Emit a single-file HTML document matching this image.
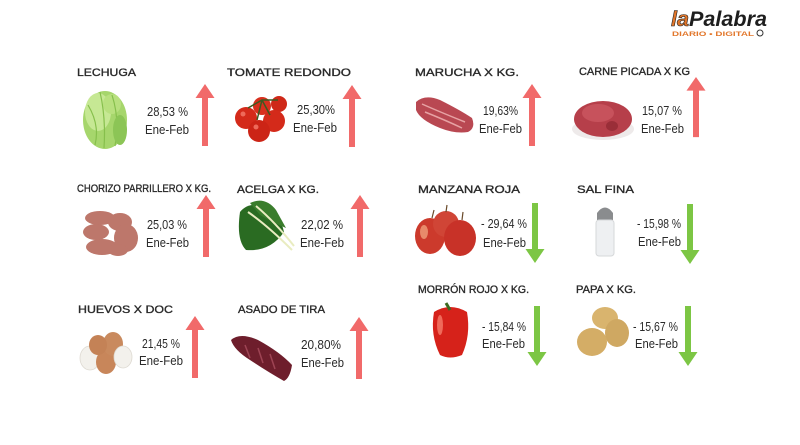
<!DOCTYPE html>
<html><head><meta charset="utf-8"><style>
html,body{margin:0;padding:0;background:#fff;}
svg{display:block;}
.t{font-family:"Liberation Sans",sans-serif;font-size:11px;font-weight:normal;fill:#2a2a2a;stroke:#2a2a2a;stroke-width:0.35;}
.p{font-family:"Liberation Sans",sans-serif;font-size:13px;fill:#2a2a2a;}
</style></head><body>
<svg width="800" height="445" viewBox="0 0 800 445" xmlns="http://www.w3.org/2000/svg">
<rect width="800" height="445" fill="#fff"/>
<defs>
<g id="up"><polygon points="0,0 9.5,14 3,14 3,62 -3,62 -3,14 -9.5,14" fill="#f16a6a"/></g>
<g id="dn"><polygon points="0,60 9.5,46 3,46 3,0 -3,0 -3,46 -9.5,46" fill="#7cc644"/></g>
</defs>

<!-- logo -->
<text x="671" y="26" font-family="Liberation Sans,sans-serif" font-size="21" font-weight="bold" font-style="italic" fill="#e2762a" stroke="#222" stroke-width="0.6" textLength="18" lengthAdjust="spacingAndGlyphs">la</text>
<text x="689" y="26" font-family="Liberation Sans,sans-serif" font-size="21" font-weight="bold" font-style="italic" fill="#1e1e1e" textLength="78" lengthAdjust="spacingAndGlyphs">Palabra</text>
<text x="672" y="36" font-family="Liberation Sans,sans-serif" font-size="6" font-weight="bold" fill="#e2762a" textLength="82" lengthAdjust="spacingAndGlyphs">DIARIO • DIGITAL</text>
<circle cx="760" cy="33" r="3" fill="none" stroke="#333" stroke-width="1"/>

<!-- titles -->
<text class="t" x="77" y="76" textLength="59" lengthAdjust="spacingAndGlyphs">LECHUGA</text>
<text class="t" x="227" y="76" textLength="124" lengthAdjust="spacingAndGlyphs">TOMATE REDONDO</text>
<text class="t" x="415" y="76" textLength="104" lengthAdjust="spacingAndGlyphs">MARUCHA X KG.</text>
<text class="t" x="579" y="75" textLength="111" lengthAdjust="spacingAndGlyphs">CARNE PICADA X  KG</text>
<text class="t" x="77" y="192" textLength="134" lengthAdjust="spacingAndGlyphs">CHORIZO PARRILLERO X KG.</text>
<text class="t" x="237" y="193" textLength="82" lengthAdjust="spacingAndGlyphs">ACELGA X KG.</text>
<text class="t" x="418" y="193" textLength="102" lengthAdjust="spacingAndGlyphs">MANZANA ROJA</text>
<text class="t" x="577" y="193" textLength="57" lengthAdjust="spacingAndGlyphs">SAL FINA</text>
<text class="t" x="78" y="313" textLength="95" lengthAdjust="spacingAndGlyphs">HUEVOS X DOC</text>
<text class="t" x="238" y="313" textLength="87" lengthAdjust="spacingAndGlyphs">ASADO DE TIRA</text>
<text class="t" x="418" y="293" textLength="111" lengthAdjust="spacingAndGlyphs">MORRÓN ROJO X KG.</text>
<text class="t" x="576" y="293" textLength="60" lengthAdjust="spacingAndGlyphs">PAPA X KG.</text>

<!-- percentages -->
<text class="p" x="147" y="116" textLength="41" lengthAdjust="spacingAndGlyphs">28,53 %</text>
<text class="p" x="145" y="134" textLength="44" lengthAdjust="spacingAndGlyphs">Ene-Feb</text>
<text class="p" x="297" y="114" textLength="38" lengthAdjust="spacingAndGlyphs">25,30%</text>
<text class="p" x="293" y="132" textLength="44" lengthAdjust="spacingAndGlyphs">Ene-Feb</text>
<text class="p" x="483" y="115" textLength="35" lengthAdjust="spacingAndGlyphs">19,63%</text>
<text class="p" x="479" y="133" textLength="43" lengthAdjust="spacingAndGlyphs">Ene-Feb</text>
<text class="p" x="642" y="115" textLength="40" lengthAdjust="spacingAndGlyphs">15,07 %</text>
<text class="p" x="641" y="133" textLength="43" lengthAdjust="spacingAndGlyphs">Ene-Feb</text>

<text class="p" x="147" y="229" textLength="40" lengthAdjust="spacingAndGlyphs">25,03 %</text>
<text class="p" x="146" y="247" textLength="43" lengthAdjust="spacingAndGlyphs">Ene-Feb</text>
<text class="p" x="301" y="229" textLength="42" lengthAdjust="spacingAndGlyphs">22,02 %</text>
<text class="p" x="300" y="247" textLength="44" lengthAdjust="spacingAndGlyphs">Ene-Feb</text>
<text class="p" x="481" y="228" textLength="46" lengthAdjust="spacingAndGlyphs">- 29,64 %</text>
<text class="p" x="483" y="247" textLength="43" lengthAdjust="spacingAndGlyphs">Ene-Feb</text>
<text class="p" x="637" y="228" textLength="44" lengthAdjust="spacingAndGlyphs">- 15,98 %</text>
<text class="p" x="638" y="246" textLength="43" lengthAdjust="spacingAndGlyphs">Ene-Feb</text>

<text class="p" x="142" y="348" textLength="38" lengthAdjust="spacingAndGlyphs">21,45 %</text>
<text class="p" x="139" y="365" textLength="44" lengthAdjust="spacingAndGlyphs">Ene-Feb</text>
<text class="p" x="301" y="349" textLength="40" lengthAdjust="spacingAndGlyphs">20,80%</text>
<text class="p" x="301" y="367" textLength="43" lengthAdjust="spacingAndGlyphs">Ene-Feb</text>
<text class="p" x="482" y="331" textLength="44" lengthAdjust="spacingAndGlyphs">- 15,84 %</text>
<text class="p" x="482" y="348" textLength="43" lengthAdjust="spacingAndGlyphs">Ene-Feb</text>
<text class="p" x="633" y="331" textLength="45" lengthAdjust="spacingAndGlyphs">- 15,67  %</text>
<text class="p" x="635" y="348" textLength="43" lengthAdjust="spacingAndGlyphs">Ene-Feb</text>

<!-- arrows -->
<use href="#up" x="205" y="84"/>
<use href="#up" x="352" y="85"/>
<use href="#up" x="532" y="84"/>
<g transform="translate(696,77) scale(1,0.97)"><use href="#up"/></g>
<use href="#up" x="206" y="195"/>
<use href="#up" x="360" y="195"/>
<use href="#up" x="195" y="316"/>
<use href="#up" x="359" y="317"/>
<use href="#dn" x="535" y="203"/>
<use href="#dn" x="690" y="204"/>
<use href="#dn" x="537" y="306"/>
<use href="#dn" x="688" y="306"/>

<!-- lettuce -->
<g>
<ellipse cx="105" cy="120" rx="22" ry="29" fill="#a6d66c"/>
<ellipse cx="98" cy="112" rx="13" ry="19" fill="#c6e894"/>
<ellipse cx="112" cy="104" rx="9" ry="10" fill="#b8e07e"/>
<path d="M88 105 Q100 125 95 145 M112 95 Q120 120 115 146 M100 92 Q106 118 104 148" stroke="#86bf4c" stroke-width="1.2" fill="none"/>
<ellipse cx="120" cy="130" rx="7" ry="15" fill="#8cc556"/>
</g>
<!-- tomatoes -->
<g>
<circle cx="246" cy="118" r="11" fill="#d42a1a"/>
<circle cx="262" cy="106" r="9" fill="#d8301e"/>
<circle cx="279" cy="104" r="8" fill="#cf2818"/>
<circle cx="274" cy="121" r="11" fill="#d42a1a"/>
<circle cx="259" cy="131" r="11" fill="#cc2416"/>
<path d="M248 108 L262 100 L278 100 M262 100 L270 115 M262 100 L257 120" stroke="#3d5a20" stroke-width="1.5" fill="none"/>
<circle cx="243" cy="114" r="2.5" fill="#ee6a5a"/>
<circle cx="256" cy="127" r="2.5" fill="#ee6a5a"/>
</g>
<!-- marucha -->
<g>
<path d="M416 102 Q425 94 440 100 Q460 110 472 118 Q476 128 468 132 Q455 134 440 128 Q420 120 416 110 Z" fill="#b94852"/>
<path d="M422 104 Q440 112 465 122 M425 112 Q445 120 462 128" stroke="#e7a2a4" stroke-width="1.5" fill="none"/>
</g>
<!-- carne picada -->
<g>
<ellipse cx="603" cy="129" rx="31" ry="11" fill="#eeeaea"/>
<ellipse cx="603" cy="119" rx="29" ry="18" fill="#b63f4a"/>
<ellipse cx="598" cy="113" rx="16" ry="9" fill="#c7525c"/>
<ellipse cx="612" cy="126" rx="6" ry="5" fill="#9a2e38"/>
</g>
<!-- chorizo -->
<g fill="#bd776b">
<ellipse cx="100" cy="218" rx="15" ry="7"/>
<ellipse cx="96" cy="232" rx="13" ry="8"/>
<ellipse cx="102" cy="247" rx="16" ry="8"/>
<ellipse cx="120" cy="222" rx="12" ry="9"/>
<ellipse cx="126" cy="238" rx="12" ry="14"/>
<ellipse cx="118" cy="250" rx="10" ry="6"/>
</g>
<!-- acelga -->
<g>
<path d="M240 212 Q250 200 268 208 Q280 214 284 232 Q270 252 246 250 Q236 240 240 212 Z" fill="#2a6b22"/>
<path d="M250 203 Q265 196 276 210 L286 228 Q272 222 260 215 Z" fill="#3a7d2c"/>
<path d="M248 212 Q268 226 292 250 M256 206 Q275 222 294 246" stroke="#e9ecc0" stroke-width="2" fill="none"/>
</g>
<!-- apples -->
<g>
<ellipse cx="430" cy="236" rx="15" ry="18" fill="#cc3a2c"/>
<ellipse cx="446" cy="224" rx="13" ry="13" fill="#d04536"/>
<ellipse cx="460" cy="238" rx="16" ry="18" fill="#c83228"/>
<path d="M432 218 L434 210 M446 212 L447 205 M462 220 L463 212" stroke="#6a4a2a" stroke-width="1.2"/>
<ellipse cx="424" cy="232" rx="4" ry="7" fill="#e88a6a"/>
</g>
<!-- salt -->
<g>
<path d="M597 213 Q605 202 613 213 L613 220 L597 220 Z" fill="#8a8c8e"/>
<rect x="596" y="220" width="18" height="36" rx="3" fill="#eef0f2" stroke="#d6d8da" stroke-width="1"/>
</g>
<!-- eggs -->
<g>
<ellipse cx="90" cy="358" rx="10" ry="12" fill="#f3f1ec" stroke="#dedad2" stroke-width="0.8"/>
<ellipse cx="106" cy="362" rx="10" ry="12" fill="#c8865a"/>
<ellipse cx="113" cy="344" rx="10" ry="12" fill="#c98a5e"/>
<ellipse cx="98" cy="345" rx="9" ry="10" fill="#c48256"/>
<ellipse cx="123" cy="357" rx="9" ry="11" fill="#f3f1ec" stroke="#dedad2" stroke-width="0.8"/>
</g>
<!-- asado -->
<g>
<path d="M231 340 Q240 332 258 340 Q280 352 292 365 Q290 378 284 381 Q268 372 250 360 Q234 350 231 340 Z" fill="#6e1e2c"/>
<path d="M245 345 L250 358 M258 348 L263 363 M270 354 L275 369" stroke="#9e4454" stroke-width="1.5"/>
</g>
<!-- pepper -->
<g>
<path d="M434 312 Q450 302 467 312 Q471 335 462 355 Q450 360 440 355 Q430 335 434 312 Z" fill="#d6221a"/>
<path d="M446 303 L450 310" stroke="#3d6a20" stroke-width="3"/>
<ellipse cx="440" cy="325" rx="3" ry="10" fill="#ef6a5a"/>
</g>
<!-- potatoes -->
<g>
<ellipse cx="605" cy="318" rx="13" ry="11" fill="#d9b46e"/>
<ellipse cx="617" cy="333" rx="12" ry="14" fill="#cfa862"/>
<ellipse cx="592" cy="342" rx="15" ry="14" fill="#d4ad66"/>
</g>
</svg>
</body></html>
